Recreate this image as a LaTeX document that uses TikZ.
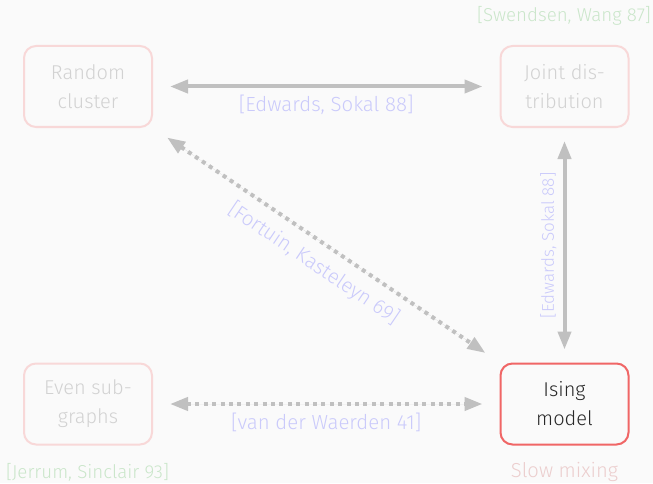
\documentclass[tikz,border=0pt]{standalone}
\usepackage{fontspec}
\setmainfont{Fira Sans}[UprightFont={* Light}]
\usetikzlibrary{arrows.meta}

\definecolor{bgcol}{RGB}{250,250,250}
\definecolor{edgecol}{RGB}{248,216,216}
\definecolor{fadetxt}{RGB}{210,210,210}
\definecolor{hotedge}{RGB}{240,102,102}
\definecolor{hottxt}{RGB}{40,40,40}
\definecolor{arrcol}{RGB}{192,192,192}
\definecolor{citecol}{RGB}{202,202,250}
\definecolor{refcol}{RGB}{202,230,202}
\definecolor{slowcol}{RGB}{236,206,206}

\begin{document}
\begin{tikzpicture}[x=0.5pt, y=0.5pt,
  font=\fontsize{10pt}{14.5pt}\selectfont,
  box/.style={draw=edgecol, line width=1pt, rounded corners=6pt, align=center, text=fadetxt, minimum width=64pt, minimum height=40.5pt},
  hot/.style={box, draw=hotedge, text=hottxt},
  arr/.style={{Triangle[length=9pt,width=6.5pt]}-{Triangle[length=9pt,width=6.5pt]}, draw=arrcol, fill=arrcol, line width=2pt, shorten <=8.5pt, shorten >=8.5pt},
  dotarr/.style={arr, dash pattern=on 2pt off 2.2pt},
  cite/.style={text=citecol, font=\fontsize{10.2pt}{12pt}\selectfont, inner sep=2pt},
  note/.style={text=refcol, font=\fontsize{9.35pt}{11pt}\selectfont}
]
\useasboundingbox[fill=bgcol] (0,0) rectangle (653,483);

\node[box] (rc) at (88,396.5) {Random\\cluster};
\node[box] (jd) at (564.5,396.5) {Joint dis-\\tribution};
\node[box] (es) at (88,79) {Even sub-\\graphs};
\node[hot] (is) at (564.5,79) {Ising\\model};

\node[note] (sw) at (564,467) {[Swendsen, Wang 87]};
\node[note] (js) at (87.5,11) {[Jerrum, Sinclair 93]};
\node[note, text=slowcol, font=\fontsize{10.1pt}{12pt}\selectfont] (sm) at (564.5,11) {Slow mixing};

\draw[arr] (rc) -- node[cite, below=1.5pt] {[Edwards, Sokal 88]} (jd);
\draw[arr, shorten <=6.5pt, shorten >=6.5pt] (is) -- node[cite, sloped, above=1pt, font=\fontsize{8.5pt}{10pt}\selectfont] {[Edwards, Sokal 88]} (jd);
\draw[dotarr] (rc.south east) -- node[cite, sloped, below=3pt] {[Fortuin, Kasteleyn 69]} (is.north west);
\draw[dotarr] (es) -- node[cite, below=1.5pt] {[van der Waerden 41]} (is);
\end{tikzpicture}
\end{document}
